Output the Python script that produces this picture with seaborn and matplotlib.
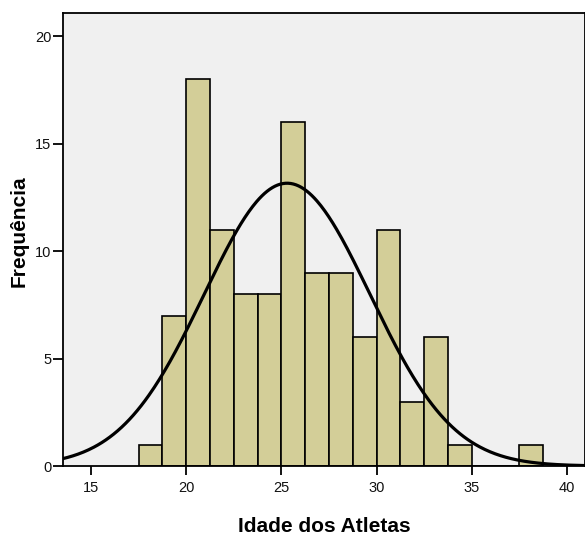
import numpy as np
import pandas as pd
import matplotlib
matplotlib.use("Agg")
import matplotlib.pyplot as plt
import seaborn as sns

# Data
bin_edges = [17.5, 18.75, 20.0, 21.25, 22.5, 23.75, 25.0, 26.25, 27.5, 28.75,
             30.0, 31.25, 32.5, 33.75, 35.0, 36.25, 37.5, 38.75]
counts = [1, 7, 18, 11, 8, 8, 16, 9, 9, 6, 11, 3, 6, 1, 0, 0, 1]
x_ticks = [15, 20, 25, 30, 35, 40]
y_ticks = [0, 5, 10, 15, 20]
curve_mean = 25.3
curve_sd = 4.36

sns.set_theme(style="white")
plt.rcParams['font.family'] = ['Liberation Sans', 'DejaVu Sans']

edges = np.array(bin_edges)
centers = (edges[:-1] + edges[1:]) / 2
df = pd.DataFrame({"idade": centers, "n": counts})

fig = plt.figure(figsize=(5.85, 5.35), dpi=100)
ax = fig.add_axes([63/585, 69/535, 1 - 63/585, (466-13)/535])
ax.set_facecolor("#F0F0F0")

sns.histplot(data=df, x="idade", weights="n", bins=list(bin_edges), ax=ax,
             color="#D3CE98", edgecolor="black", linewidth=1.2, alpha=1)

N = sum(counts)
bw = edges[1] - edges[0]
xs = np.linspace(13.5, 41, 400)
ys = N * bw / (curve_sd * np.sqrt(2 * np.pi)) * np.exp(-0.5 * ((xs - curve_mean) / curve_sd) ** 2)
sns.lineplot(x=xs, y=ys, ax=ax, color="black", linewidth=2.3)

ax.set_xlim(13.53, 40.95)
ax.set_ylim(0, 21.07)
ax.set_xticks(x_ticks)
ax.set_yticks(y_ticks)
ax.tick_params(axis="both", which="both", direction="out", width=1.3,
               color="black", labelsize=10.5, labelcolor="#111111",
               bottom=True, left=True)
ax.tick_params(axis="x", length=6.5, pad=4)
ax.tick_params(axis="y", length=7, pad=1.5)
for s in ax.spines.values():
    s.set_color("black")
    s.set_linewidth(1.3)

ax.set_xlabel("Idade dos Atletas", fontsize=15, fontweight="bold", color="black")
ax.set_ylabel("Frequência", fontsize=15, fontweight="bold", color="black")
ax.xaxis.set_label_coords(0.5, (466 - 517) / 453, transform=ax.transAxes)
ax.xaxis.label.set_va("top")
ax.yaxis.set_label_coords((29 - 63) / 522, (466 - 231) / 453)

fig.savefig("out.png", dpi=100)
